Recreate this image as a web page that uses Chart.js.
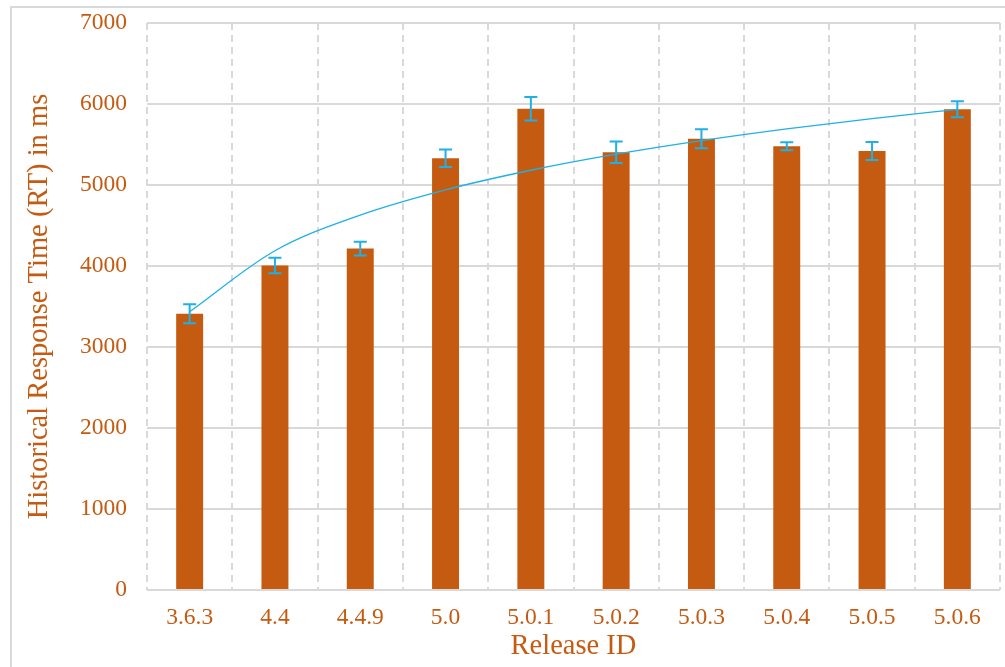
<!DOCTYPE html>
<html><head><meta charset="utf-8">
<script src="https://cdn.jsdelivr.net/npm/chart.js@4/dist/chart.umd.min.js"></script>
<style>html,body{margin:0;padding:0;background:#fff;} #wrap{width:1005px;height:667px;position:relative;}</style>
</head><body><div id="wrap"><canvas id="c" width="1005" height="667"></canvas></div>
<script>
const releases = ['3.6.3','4.4','4.4.9','5.0','5.0.1','5.0.2','5.0.3','5.0.4','5.0.5','5.0.6'];
const responseTimes = [3410,4005,4215,5330,5940,5405,5570,5478,5420,5935];
const errorMargins = [118,96,84,107,145,132,117,50,110,100];
const trendValues = [3436,4188,4628,4940,5182,5380,5547,5692,5820,5934];
const yTickValues = [0,1000,2000,3000,4000,5000,6000,7000];

const ORANGE = '#C55A11';
const CYAN = '#1FB0E6';
const GRID = '#D9D9D9';
const FONT = "'Liberation Serif', 'Times New Roman', serif";

const framePlugin = {
  id: 'frame',
  beforeDraw(chart) {
    const ctx = chart.ctx;
    ctx.save();
    ctx.fillStyle = '#fff';
    ctx.fillRect(0, 0, chart.width, chart.height);
    ctx.strokeStyle = GRID;
    ctx.lineWidth = 2;
    ctx.strokeRect(11, 7, chart.width + 50, chart.height + 50);
    ctx.restore();
  }
};

const errorBarPlugin = {
  id: 'errorBars',
  afterDatasetsDraw(chart) {
    const ctx = chart.ctx;
    const meta = chart.getDatasetMeta(1);
    const y = chart.scales.y;
    ctx.save();
    ctx.strokeStyle = CYAN;
    ctx.lineWidth = 2;
    meta.data.forEach((bar, i) => {
      const v = responseTimes[i], e = errorMargins[i];
      const yTop = y.getPixelForValue(v + e);
      const yBot = y.getPixelForValue(v - e);
      const x = bar.x;
      const half = 6.5;
      ctx.beginPath();
      ctx.moveTo(x, yTop); ctx.lineTo(x, yBot);
      ctx.moveTo(x - half, yTop); ctx.lineTo(x + half, yTop);
      ctx.moveTo(x - half, yBot); ctx.lineTo(x + half, yBot);
      ctx.stroke();
    });
    ctx.restore();
  }
};

new Chart(document.getElementById('c'), {
  data: {
    labels: releases,
    datasets: [
      {
        type: 'line',
        label: 'Trend',
        data: trendValues,
        borderColor: CYAN,
        borderWidth: 1.3,
        pointRadius: 0,
        fill: false,
        cubicInterpolationMode: 'monotone',
        order: 0
      },
      {
        type: 'bar',
        label: 'Historical Response Time',
        data: responseTimes,
        backgroundColor: ORANGE,
        borderWidth: 0,
        barPercentage: 0.316,
        categoryPercentage: 1.0,
        order: 1
      }
    ]
  },
  options: {
    responsive: false,
    animation: false,
    devicePixelRatio: 1,
    layout: { padding: { left: 12, top: 23, right: 5, bottom: 0 } },
    plugins: { legend: { display: false }, tooltip: { enabled: false } },
    scales: {
      x: {
        type: 'category',
        offset: true,
        grid: { offset: true, color: GRID, lineWidth: 2, drawTicks: false },
        border: { display: false, dash: [7, 5] },
        ticks: { color: ORANGE, font: { family: FONT, size: 23.5 }, padding: 14, maxRotation: 0 },
        title: { display: true, text: 'Release ID', color: ORANGE,
                 font: { family: FONT, size: 28.5, lineHeight: 1.2 }, padding: { top: 0, bottom: 3 } },
        afterFit(scale) { scale.height = 77; scale.paddingLeft = 0; scale.paddingRight = 0; }
      },
      y: {
        min: 0, max: 7000,
        afterBuildTicks(scale) { scale.ticks = yTickValues.map(v => ({ value: v })); },
        grid: { color: GRID, lineWidth: 2, drawTicks: false },
        border: { display: false },
        ticks: { color: ORANGE, font: { family: FONT, size: 23.5 }, padding: 20,
                 callback: (v) => String(v) },
        title: { display: true, text: 'Historical Response Time (RT) in ms', color: ORANGE,
                 font: { family: FONT, size: 28.5, lineHeight: 1.2 }, padding: { top: 10, bottom: 0 } },
        afterFit(scale) { scale.width = 135; scale.paddingTop = 0; scale.paddingBottom = 0; }
      }
    }
  },
  plugins: [framePlugin, errorBarPlugin]
});
</script>
</body></html>
